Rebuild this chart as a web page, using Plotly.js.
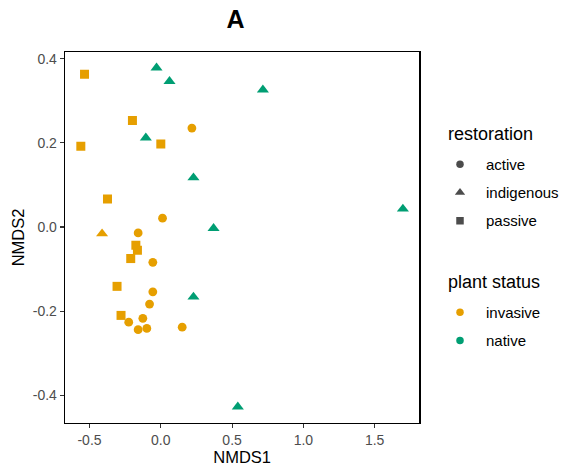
<!DOCTYPE html>
<html><head><meta charset="utf-8">
<script src="https://cdn.plot.ly/plotly-3.0.1.min.js"></script>
<style>body{margin:0;background:#fff}#c{width:561px;height:473px}</style>
</head><body><div id="c"></div>
<script>
// invasive / active (circles)
const invActiveX = [0.218, 0.012, -0.159, -0.056, -0.056, -0.079, -0.126, -0.225, -0.159, -0.098, 0.150];
const invActiveY = [0.235, 0.021, -0.014, -0.084, -0.154, -0.183, -0.217, -0.226, -0.244, -0.241, -0.238];
// invasive / indigenous (triangles)
const invIndigX = [-0.412];
const invIndigY = [-0.016];
// invasive / passive (squares)
const invPassX = [-0.535, -0.199, -0.561, 0.000, -0.374, -0.175, -0.164, -0.211, -0.307, -0.279];
const invPassY = [0.363, 0.253, 0.192, 0.197, 0.0665, -0.0435, -0.055, -0.075, -0.141, -0.210];
// native / indigenous (triangles)
const natIndigX = [-0.030, 0.061, 0.716, -0.105, 0.229, 1.698, 0.370, 0.229, 0.540];
const natIndigY = [0.378, 0.346, 0.326, 0.212, 0.117, 0.043, -0.003, -0.166, -0.427];

const restorationLevels = ['active', 'indigenous', 'passive'];
const statusLevels = ['invasive', 'native'];
const xTicks = [-0.5, 0.0, 0.5, 1.0, 1.5];
const xTickText = ['-0.5', '0.0', '0.5', '1.0', '1.5'];
const yTicks = [-0.4, -0.2, 0.0, 0.2, 0.4];
const yTickText = ['-0.4', '-0.2', '0.0', '0.2', '0.4'];

const ORANGE = '#E69F00', GREEN = '#009E73';
const symbols = {active: 'circle', indigenous: 'triangle-up', passive: 'square'};
const sizes = {active: 8.8, indigenous: 10.5, passive: 9};
const legendSizes = {active: 7.5, indigenous: 9, passive: 7.5};

function pts(x, y, color, rest) {
  return {type: 'scatter', mode: 'markers', x: x, y: y, showlegend: false,
    marker: {color: color, symbol: symbols[rest], size: sizes[rest], line: {width: 0}}};
}
const traces = [
  pts(invActiveX, invActiveY, ORANGE, 'active'),
  pts(invIndigX, invIndigY, ORANGE, 'indigenous'),
  pts(invPassX, invPassY, ORANGE, 'passive'),
  pts(natIndigX, natIndigY, GREEN, 'indigenous')
];

// ---- legend (drawn on an overlay axis measured in pixels) ----
const LG = {keyX: 460, textX: 483.5, titleX: 446.5,
  restTitleY: 134, restY0: 164.3, statTitleY: 282, statY0: 312.3, step: 28.2};
const stColors = {invasive: ORANGE, native: GREEN};
traces.push({type: 'scatter', mode: 'markers', xaxis: 'x2', yaxis: 'y2', showlegend: false,
  x: restorationLevels.map(() => LG.keyX),
  y: restorationLevels.map((r, i) => LG.restY0 + i * LG.step),
  marker: {color: '#000', symbol: restorationLevels.map(r => symbols[r]),
           size: restorationLevels.map(r => legendSizes[r]), line: {width: 0}}});
traces.push({type: 'scatter', mode: 'markers', xaxis: 'x2', yaxis: 'y2', showlegend: false,
  x: statusLevels.map(() => LG.keyX),
  y: statusLevels.map((s, i) => LG.statY0 + i * LG.step),
  marker: {color: statusLevels.map(s => stColors[s]), symbol: 'circle', size: 7.5, line: {width: 0}}});

const annotations = [];
function ann(text, x, y, size) {
  annotations.push({text: text, xref: 'x2', yref: 'y2', x: x, y: y, xanchor: 'left', yanchor: 'middle',
    showarrow: false, font: {size: size, color: '#000'}});
}
ann('restoration', LG.titleX, LG.restTitleY, 18);
restorationLevels.forEach((r, i) => ann(r, LG.textX, LG.restY0 + i * LG.step, 15));
ann('plant status', LG.titleX, LG.statTitleY, 18);
statusLevels.forEach((s, i) => ann(s, LG.textX, LG.statY0 + i * LG.step, 15));

const axisCommon = {
  showgrid: false, zeroline: false, showline: true, mirror: true,
  linecolor: '#000', linewidth: 1.3, ticks: 'outside', ticklen: 4, tickcolor: '#333', tickwidth: 1.1,
  tickfont: {size: 14, color: '#4d4d4d'}
};
const hidden = {showgrid: false, zeroline: false, showline: false, showticklabels: false, ticks: '', fixedrange: true};
const layout = {
  width: 561, height: 473,
  margin: {l: 65, r: 4, t: 52, b: 50},
  paper_bgcolor: '#fff', plot_bgcolor: 'rgba(0,0,0,0)',
  font: {family: 'Liberation Sans, Arial, sans-serif'},
  showlegend: false,
  title: {text: '<b>A</b>', x: 0.4198, xanchor: 'center', y: 0.96, yanchor: 'middle', font: {size: 25, color: '#000'}},
  xaxis: Object.assign({}, axisCommon, {domain: [0, 0.7201], range: [-0.672, 1.813], tickvals: xTicks, ticktext: xTickText,
    title: {text: 'NMDS1', font: {size: 16.5, color: '#000'}, standoff: 2}}),
  yaxis: Object.assign({}, axisCommon, {domain: [0, 1], range: [-0.4656, 0.4157], tickvals: yTicks, ticktext: yTickText,
    title: {text: 'NMDS2', font: {size: 16.5, color: '#000'}, standoff: 4}}),
  xaxis2: Object.assign({}, hidden, {domain: [0.73, 1], range: [65 + 0.73 * 492, 557], anchor: 'y2'}),
  yaxis2: Object.assign({}, hidden, {domain: [0, 1], range: [423, 52], anchor: 'x2'}),
  annotations: annotations
};
Plotly.newPlot('c', traces, layout, {displayModeBar: false, staticPlot: true});
</script></body></html>
